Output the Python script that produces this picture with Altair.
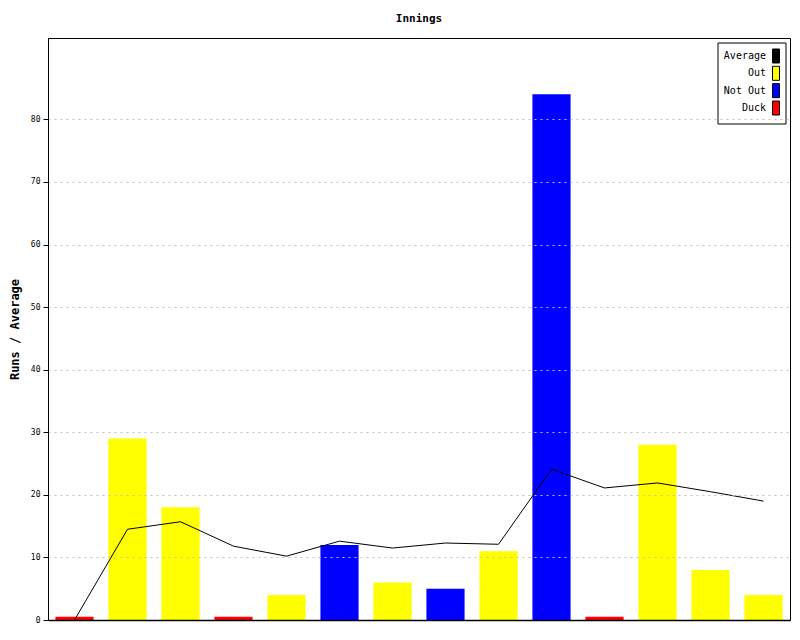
import altair as alt
import pandas as pd

innings = list(range(1, 15))
runs = [0.5, 29, 18, 0.5, 4, 12, 6, 5, 11, 84, 0.5, 28, 8, 4]
kinds = ["Duck", "Out", "Out", "Duck", "Out", "Not Out", "Out", "Not Out", "Out",
         "Not Out", "Duck", "Out", "Out", "Out"]
average = [0, 14.5, 15.7, 11.8, 10.2, 12.6, 11.5, 12.3, 12.1, 24.1, 21.1, 21.9, 20.5, 19.0]

legend_labels = ["Average", "Out", "Not Out", "Duck"]
legend_colors = ["#000000", "#ffff00", "#0000ff", "#ff0000"]

df = pd.DataFrame({"inning": innings, "runs": runs, "kind": kinds, "average": average})
leg = pd.DataFrame({"label": legend_labels, "idx": list(range(len(legend_labels)))})

FONT = "DejaVu Sans Mono"
color = alt.Color("kind:N", scale=alt.Scale(domain=legend_labels, range=legend_colors), legend=None)

x = alt.X("inning:O", title=None,
          scale=alt.Scale(paddingInner=0.28, paddingOuter=0.14),
          axis=alt.Axis(labels=False, ticks=False, domain=True, domainColor="black",
                        domainWidth=1.5, grid=False, zindex=2))
y = alt.Y("runs:Q", title="Runs / Average",
          scale=alt.Scale(domain=[0, 93], nice=False, zero=True),
          axis=alt.Axis(values=[0, 10, 20, 30, 40, 50, 60, 70, 80], tickSize=5, tickColor="black",
                        domainColor="black", labelFont=FONT, labelFontSize=8, labelColor="black",
                        labelPadding=3, titleFont=FONT, titleFontSize=12, titleFontWeight="bold",
                        titleColor="black", titlePadding=9, grid=True, gridColor="#c0c0c0",
                        gridDash=[2, 4], zindex=1))

bars = alt.Chart(df).mark_bar().encode(x=x, y=y, color=color)
line = alt.Chart(df).mark_line(color="black", strokeWidth=1).encode(
    x=x, y=alt.Y("average:Q"))
main = alt.layer(bars, line)

frame = alt.Chart(pd.DataFrame({"a": [0]})).mark_rect(fill="white", stroke="black", strokeWidth=1).encode(
    x=alt.value(670), x2=alt.value(738), y=alt.value(5), y2=alt.value(86))
ly = alt.Y("idx:Q", scale=alt.Scale(domain=[0, 3], range=[18, 70]), axis=None)
texts = alt.Chart(leg).mark_text(align="right", baseline="middle", font=FONT, fontSize=10, color="black").encode(
    x=alt.value(718), y=ly, text="label:N")
sw = alt.Chart(leg).mark_point(shape="M-0.5,-1H0.5V1H-0.5Z", filled=True, size=196, stroke="black",
                               strokeWidth=1, opacity=1).encode(
    x=alt.value(728), y=ly,
    fill=alt.Fill("label:N", scale=alt.Scale(domain=legend_labels, range=legend_colors), legend=None))
legend = alt.layer(frame, texts, sw)

chart = alt.layer(main, legend).resolve_scale(y="independent").properties(
    width=742, height=582,
    title=alt.TitleParams("Innings", font=FONT, fontSize=11, fontWeight="bold", color="black", offset=14),
    autosize=alt.AutoSizeParams(type="none"),
    padding={"left": 40, "top": 30, "right": 2, "bottom": 10},
).configure_view(stroke="black", strokeWidth=1)

chart.save("out.html", embed_options={"renderer": "svg", "actions": False})
